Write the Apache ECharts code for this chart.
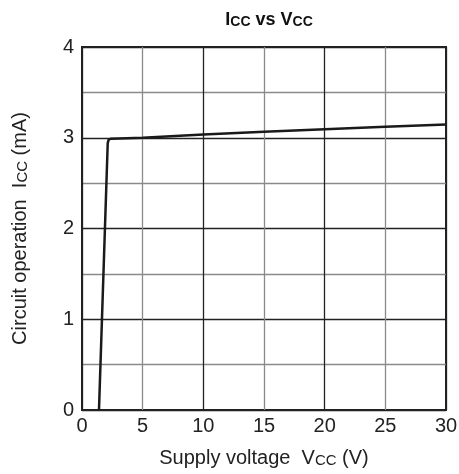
<!DOCTYPE html>
<html>
<head>
<meta charset="utf-8">
<script src="https://cdn.jsdelivr.net/npm/echarts@6/dist/echarts.min.js"></script>
<style>
  html, body { margin: 0; padding: 0; background: #ffffff; }
  #chart { width: 459px; height: 474px; }
</style>
</head>
<body>
<div id="chart"></div>
<script>
// supply voltage (V) vs circuit operation current (mA)
const vcc = [1.4, 2.12, 2.2, 2.4, 5, 10, 15, 20, 25, 30];
const icc = [0, 2.94, 2.98, 2.99, 3.0, 3.035, 3.065, 3.095, 3.12, 3.145];
const xTicks = [0, 5, 10, 15, 20, 25, 30];
const yTicks = [0, 1, 2, 3, 4];

const FONT = "'Liberation Sans', Arial, sans-serif";
const chart = echarts.init(document.getElementById("chart"), null, { renderer: "canvas" });

chart.setOption({
  backgroundColor: "#ffffff",
  animation: false,
  title: {
    text: "{b|I}{s|CC}{b| vs V}{s|CC}",
    left: 264,
    textAlign: "center",
    top: 6,
    textStyle: {
      rich: {
        b: { fontFamily: FONT, fontSize: 18, fontWeight: "bold", color: "#111" },
        s: { fontFamily: FONT, fontSize: 14, fontWeight: "bold", color: "#111", verticalAlign: "bottom" },
      },
    },
  },
  grid: {
    left: 82,
    right: 13,
    top: 47,
    bottom: 64,
    outerBoundsMode: "none",
    containLabel: false,
    show: true,
    borderColor: "#222",
    borderWidth: 2,
    backgroundColor: "transparent",
  },
  xAxis: {
    type: "value",
    min: 0,
    max: 30,
    interval: 5,
    name: "{n|Supply voltage  V}{s|CC}{n| (V)}",
    nameLocation: "middle",
    nameGap: 38,
    nameTextStyle: {
      rich: {
        n: { fontFamily: FONT, fontSize: 20, color: "#222" },
        s: { fontFamily: FONT, fontSize: 15, color: "#222", verticalAlign: "bottom" },
      },
    },
    axisLine: { show: false },
    axisTick: { show: false },
    axisLabel: {
      fontFamily: FONT,
      fontSize: 20,
      color: "#222",
      margin: 6,
      formatter: (v) => (xTicks.includes(v) ? String(v) : ""),
    },
    splitLine: { show: true, lineStyle: { color: ["#222", "#8a8a8a"], width: 1.3 } },
  },
  yAxis: {
    type: "value",
    min: 0,
    max: 4,
    interval: 0.5,
    name: "{n|Circuit operation  I}{s|CC}{n| (mA)}",
    nameLocation: "middle",
    nameGap: 52,
    nameTextStyle: {
      rich: {
        n: { fontFamily: FONT, fontSize: 20, color: "#222" },
        s: { fontFamily: FONT, fontSize: 15, color: "#222", verticalAlign: "bottom" },
      },
    },
    axisLine: { show: false },
    axisTick: { show: false },
    axisLabel: {
      fontFamily: FONT,
      fontSize: 20,
      color: "#222",
      margin: 8,
      formatter: (v) => (yTicks.includes(v) ? String(v) : ""),
    },
    splitLine: { show: true, lineStyle: { color: ["#222", "#8a8a8a"], width: 1.3 } },
  },
  series: [
    {
      type: "line",
      data: vcc.map((x, i) => [x, icc[i]]),
      symbol: "none",
      lineStyle: { color: "#1a1a1a", width: 2.5 },
      z: 5,
    },
  ],
});
</script>
</body>
</html>
